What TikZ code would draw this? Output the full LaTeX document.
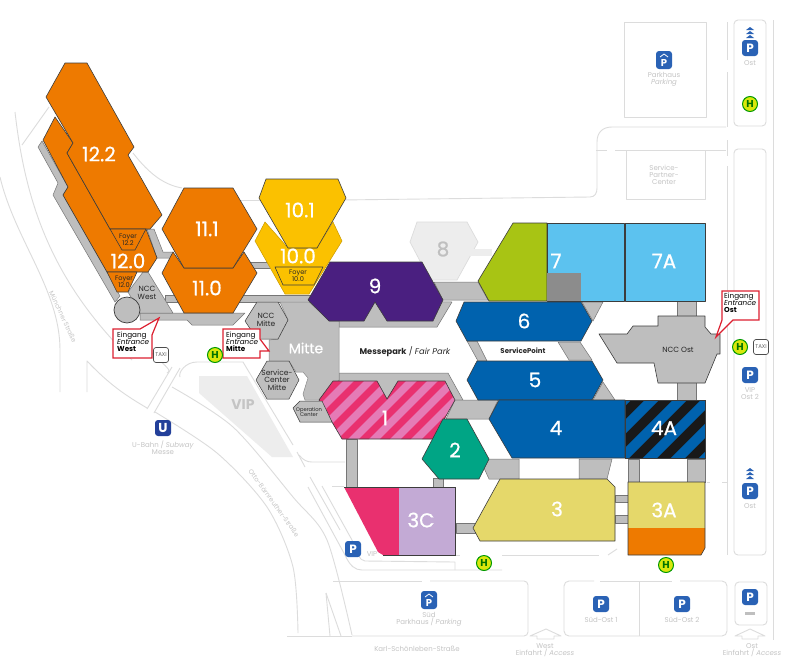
\documentclass[tikz,border=0pt]{standalone}
\usepackage{fontspec}
\setmainfont{Poppins}
\newfontfamily\hallf[RawFeature={embolden=0.7}]{Poppins}
\definecolor{roadc}{HTML}{DCDCDC}
\definecolor{stripc}{HTML}{BEBEBE}
\definecolor{edgec}{HTML}{3C3C3C}
\definecolor{orangec}{HTML}{EE7A00}
\definecolor{yellowc}{HTML}{FBC100}
\definecolor{purplec}{HTML}{4A1F80}
\definecolor{blued}{HTML}{0062AE}
\definecolor{bluel}{HTML}{5CC2EF}
\definecolor{greenc}{HTML}{A8C414}
\definecolor{tealc}{HTML}{00A585}
\definecolor{sandc}{HTML}{E5D86A}
\definecolor{lilacc}{HTML}{C3AAD5}
\definecolor{pinkd}{HTML}{E9306F}
\definecolor{pinkl}{HTML}{E57BB6}
\definecolor{pblue}{HTML}{2A62B5}
\definecolor{ublue}{HTML}{23409A}
\definecolor{greyt}{HTML}{C4C4C4}
\definecolor{redc}{HTML}{DC2030}
\newcommand{\fs}[1]{\fontsize{#1}{#1}\selectfont}
\tikzset{
  road/.style={draw=roadc,line width=0.9pt,line join=round},
  strip/.style={fill=stripc,draw=edgec!70,line width=0.5pt,line join=round},
  hall/.style={draw=edgec,line width=0.6pt,line join=round},
  hnum/.style={text=white,font=\hallf\fs{20},inner sep=0pt},
  small/.style={text=black!85,align=center,inner sep=0pt,font=\fs{7.5}},
  faint/.style={text=greyt,align=center,inner sep=0pt,font=\fs{7}},
  callout/.style={draw=redc,fill=white,line width=1.2pt,line join=miter},
  calltext/.style={text=black,align=left,inner sep=0pt,anchor=north west,font=\fs{7.2}},
  bus/.style={circle,draw=green!60!black,fill=yellow!85!green,line width=1pt,minimum size=15pt,inner sep=0pt,text=green!45!black,font=\bfseries\fs{10}},
  taxi/.style={draw=black!70,fill=white,rounded corners=2.5pt,line width=0.7pt,minimum width=15pt,minimum height=15pt,inner sep=0pt,text=black!60,font=\fs{5.5}},
  park/.style={rounded corners=3pt,fill=pblue,minimum size=16pt,inner sep=0pt,text=white,font=\bfseries\fs{12}},
}
\begin{document}
\begin{tikzpicture}[x=1pt,y=-1pt]
\useasboundingbox (0,0) rectangle (797,659);
\fill[white] (0,0) rectangle (797,659);
% ---- roads and outside plan
\draw[road] (15,112) .. controls (25,200) and (50,280) .. (132,360);
\draw[road] (0,177) .. controls (15,240) and (60,290) .. (60,350) -- (60,392);
\draw[road] (22,145) -- (49,107);
\draw[road] (133,153) .. controls (150,175) and (165,185) .. (182,188);
\draw[road] (240,200) -- (260,200);
\draw[road] (340,200) -- (590,197) .. controls (595,197) and (597,193) .. (597,188) -- (597,142) .. controls (597,132) and (603,127) .. (612,127) -- (726,127);
\draw[road] (596,150) -- (607,150);
\draw[road] (615,150) -- (726,150);
\draw[road] (624,22) rectangle (706,117);
\draw[road] (626,150) rectangle (705,199);
\draw[road] (727,22) -- (727,60);
\draw[road] (727,72) -- (727,127);
\draw[road] (727,140) -- (727,156);
\draw[road] (727,166) -- (727,555);
\draw[road,rounded corners=4pt] (734,20) rectangle (766,126);
\draw[road,rounded corners=4pt] (734,149) rectangle (766,555);
\draw[road] (773,20) -- (773,640);
\draw[road,rounded corners=4pt] (735,582) rectangle (767,625);
\draw[road] (87,392) -- (87,361) .. controls (110,385) and (125,395) .. (147,408);
\draw[road] plot[smooth] coordinates {(155,412) (217,453) (267,507) (293,567) (298,633)};
\draw[road] plot[smooth] coordinates {(172,387) (233,427) (293,497) (327,540) (352,635)};
\draw[road] (326,593) -- (330,636);
\draw[road] (326,593) -- (341,636);
\draw[road] (287,636) -- (352,636);
\draw[road] (172,367) -- (147,409);
\draw[road] (180,368) -- (154,413);
\draw[road] (180,377) .. controls (178,373) and (185,362) .. (197,362) -- (243,362) -- (293,445);
\draw[road] (132,335) .. controls (170,370) and (172,370) .. (167,373);
\draw[road] (297,452) -- (305,467);
\draw[road] (299,455) .. controls (303,460) and (307,462) .. (312,462) -- (345,462);
\draw[road] (310,477) -- (340,530);
\draw[road] (308,487) -- (345,555) .. controls (350,566) and (355,570) .. (362,570) -- (502,570);
\draw[road] (322,486) -- (352,540) .. controls (356,552) and (360,561) .. (365,561) -- (455,562) -- (455,570);
\draw[road] (332,486) -- (344,486);
\draw[road] (455,555) -- (460,555);
\draw[road] (502,555) -- (599,555);
\draw[road] (608,555) -- (617,549);
\draw[road] (707,482) -- (710,482);
\draw[road] (722,482) -- (727,482);
% south parking and south-east boxes
\draw[road,rounded corners=4pt] (333,581) -- (422,581);
\draw[road,rounded corners=4pt] (430,581) -- (528,581) -- (528,636) -- (352,636);
\draw[road,rounded corners=5pt] (594,581) -- (564,581) -- (564,636) -- (727,636) -- (727,581) -- (680,581);
\draw[road] (600,581) -- (672,581);
\draw[road] (639,581) -- (639,636);
% access arrows
\draw[road] (530,636) -- (546,629) -- (561,636) -- (554,636) -- (554,639) -- (537,639) -- (537,636) -- cycle;
\draw[road] (735,636) -- (750,629) -- (765,636) -- (758,636) -- (758,639) -- (742,639) -- (742,636) -- cycle;
% VIP area
\fill[black!7] (199,376) -- (247,376) -- (293,457) -- (272,457) -- (199,393) -- cycle;
\fill[black!7] (417,222) -- (467,222) -- (478,242) -- (457,280) -- (430,280) -- (410,242) -- cycle;
\draw[roadc,line width=0.7pt] (417,222) -- (467,222) -- (478,242) -- (457,280) -- (430,280) -- (410,242) -- cycle;
\fill[black!7] (470,249) rectangle (492,256);
% ---- connecting strips
\path[strip] (38,147) -- (42,141) -- (68,187) -- (63,195) -- (107,272) -- (120,296) -- (115,302) -- (53,195) -- (58,183) -- cycle;
\path[strip] (147,229) -- (154,229) -- (163,252) -- (173,252) -- (173,258) -- (157,258) -- cycle;
\path[strip] (250,262) -- (270,262) -- (270,268) -- (250,268) -- cycle;
\path[strip] (165,295) -- (310,295) -- (310,302) -- (165,302) -- cycle;
\path[strip] (140,313) -- (245,313) -- (233,325) -- (192,325) -- (187,320) -- (140,320) -- cycle;
\path[strip] (339,300) -- (452,302) -- (437,327) -- (339,327) -- cycle;
\path[strip] (339,373) -- (448,373) -- (463,400) -- (319,400) -- (339,381) -- cycle;
\path[strip] (434,282) -- (478,282) -- (488,300) -- (443,300) -- cycle;
\path[strip] (455,400) -- (498,400) -- (489,419) -- (446,419) -- cycle;
\path[strip] (467,341) -- (477,341) -- (487,361) -- (478,361) -- cycle;
\path[strip] (558,342) -- (580,342) -- (592,360) -- (569,360) -- cycle;
\path[strip] (582,302) -- (603,302) -- (593,321) -- cycle;
\path[strip] (603,382) -- (615,400) -- (593,400) -- cycle;
\path[strip] (677,300) rectangle (696,317);
\path[strip] (677,382) rectangle (696,400);
\path[strip] (346,439) rectangle (357,487);
\path[strip] (433,478) rectangle (443,487);
\path[strip] (456,523) rectangle (476,533);
\path[strip] (484,468) -- (489,459) -- (519,459) -- (519,479) -- (489,479) -- cycle;
\path[strip] (579,459) -- (612,459) -- (607,479) -- (579,479) -- cycle;
\path[strip] (615,495) rectangle (628,502);
\path[strip] (615,515) rectangle (628,523);
\path[strip] (628,459) rectangle (639,482);
\path[strip] (687,459) rectangle (705,482);
% Mitte block
\path[fill=stripc,draw=edgec!60,line width=0.5pt,line join=round] (280,302) -- (309,302) -- (330,321) -- (339,321) -- (339,380) -- (319,400) -- (305,400) -- (303,394) -- (308,378) -- (303,372) -- (296,372) -- (289,361) -- (269,361) -- (269,352) -- (269,340) -- (278,339) -- (288,320) -- cycle;
% NCC West and circle
\path[strip] (143,272) -- (148,272) -- (173,313) -- (140,313) -- (128,292) -- cycle;
\path[fill=stripc,draw=edgec,line width=0.7pt] (127,310) circle (13);
% ---- halls
\path[hall,fill=orangec] (55,117) -- (43,140) -- (68,187) -- (63,195) -- (107,272) -- (148,272) -- (157,258) -- (146,229) -- (110,229) -- (67,153) -- (73,143) -- cycle;
\path[hall,fill=orangec] (65,63) -- (87,63) -- (134,147) -- (128,155) -- (162,215) -- (150,229) -- (110,229) -- (67,153) -- (73,143) -- (46,97) -- cycle;
\path[hall,fill=orangec] (110,229) -- (146,229) -- (135,250) -- (122,250) -- cycle;
\path[hall,fill=orangec] (107,272) -- (137,272) -- (128,292) -- (117,292) -- cycle;
\path[hall,fill=orangec] (173,252) -- (184,268) -- (233,268) -- (244,252) -- (257,273) -- (233,313) -- (184,313) -- (162,273) -- cycle;
\path[hall,fill=orangec] (184,188) -- (233,188) -- (257,229) -- (233,268) -- (184,268) -- (162,229) -- cycle;
\path[fill=yellowc,draw=yellowc!80!black,line width=0.5pt] (265,222) -- (255,241) -- (285,294) -- (309,294) -- (342,241) -- (333,222) -- (317,248) -- (288,248) -- cycle;
\path[hall,fill=yellowc] (266,179) -- (338,179) -- (346,198) -- (317,248) -- (288,248) -- (259,198) -- cycle;
\path[hall,fill=yellowc] (275,267) -- (323,267) -- (314,285) -- (283,285) -- cycle;
\path[hall,fill=purplec] (330,262) -- (422,262) -- (443,300) -- (433,321) -- (387,321) -- (375,302) -- (364,321) -- (329,321) -- (308,300) -- cycle;
\path[hall,fill=greenc] (513,223) -- (547,223) -- (547,301) -- (489,301) -- (478,281) -- cycle;
\path[hall,fill=bluel] (547,223) rectangle (624,301);
\path[hall,fill=bluel] (625,223) rectangle (705,301);
\fill[black!45] (547,273) rectangle (581,301);
\path[hall,fill=blued] (464,302) -- (581,302) -- (592,321) -- (581,341) -- (467,341) -- (456,321) -- cycle;
\path[hall,fill=blued] (477,361) -- (592,361) -- (603,380) -- (592,400) -- (478,400) -- (467,380) -- cycle;
\path[hall,fill=blued] (499,400) -- (625,400) -- (625,458) -- (512,458) -- (489,419) -- cycle;
\begin{scope}
\clip (625,400) rectangle (705,458);
\fill[black!90] (625,400) rectangle (705,458);
\foreach \k in {-2,...,5} \draw[blued,line width=10pt] (610+\k*28,470) -- ++(80,-80);
\end{scope}
\draw[edgec,line width=0.6pt] (625,400) rectangle (705,458);
\begin{scope}
\clip (333,381) -- (377,381) -- (387,399) -- (398,381) -- (445,381) -- (455,400) -- (433,439) -- (342,439) -- (319,400) -- cycle;
\fill[pinkl] (310,375) rectangle (460,445);
\foreach \k in {-1,...,8} \draw[pinkd,line width=7pt] (290+\k*21,450) -- ++(80,-80);
\end{scope}
\draw[edgec,line width=0.6pt,line join=round] (333,381) -- (377,381) -- (387,399) -- (398,381) -- (445,381) -- (455,400) -- (433,439) -- (342,439) -- (319,400) -- cycle;
\path[hall,fill=tealc] (443,419) -- (467,419) -- (489,459) -- (479,479) -- (439,479) -- (422,459) -- cycle;
\path[hall,fill=sandc] (500,479) -- (607,479) -- (615,487) -- (615,541) -- (480,541) -- (473,528) -- cycle;
\fill[sandc] (628,482) rectangle (705,528);
\fill[orangec] (628,528) -- (705,528) -- (705,548) -- (701,555) -- (628,555) -- cycle;
\draw[edgec,line width=0.6pt,line join=round] (628,555) -- (628,482) -- (705,482) -- (705,548) -- (701,555) -- cycle;
\fill[pinkd] (344,487) -- (399,487) -- (399,555) -- (383,555) -- (378,552) -- cycle;
\fill[lilacc] (399,487) rectangle (455,555);
\draw[edgec,line width=0.6pt] (344,487) -- (455,487) -- (455,555) -- (383,555);
% grey buildings
\path[fill=stripc,draw=edgec,line width=0.5pt,line join=round] (257,302) -- (278,302) -- (288,320) -- (278,339) -- (257,339) -- (245,321) -- cycle;
\path[fill=stripc,draw=edgec,line width=0.5pt,line join=round] (267,361) -- (289,361) -- (299,380) -- (289,399) -- (267,399) -- (256,380) -- cycle;
\path[fill=stripc,draw=edgec,line width=0.5pt,line join=round] (293,408) -- (300,401) -- (322,401) -- (332,422) -- (300,422) -- cycle;
\path[fill=stripc,draw=edgec,line width=0.6pt,line join=round] (599,334) -- (627,334) -- (633,326) -- (658,326) -- (658,316) -- (705,316) -- (705,327) -- (711,334) -- (720,334) -- (720,354) -- (717,354) -- (705,383) -- (658,383) -- (654,363) -- (617,363) -- cycle;
% ---- hall labels
\node[hnum] (h122) at (99,154) {12.2};
\node[hnum] (h120) at (128,261) {12.0};
\node[hnum] (h111) at (207,229) {11.1};
\node[hnum] (h110) at (207,288) {11.0};
\node[hnum] (h101) at (300,210) {10.1};
\node[hnum] (h100) at (298,256) {10.0};
\node[hnum] (h9) at (375,286) {9};
\node[hnum,text=black!25] (h8) at (443,249) {8};
\node[hnum] (h7) at (556,261) {7};
\node[hnum] (h7a) at (664,261) {7A};
\node[hnum] (h6) at (524,321) {6};
\node[hnum] (h5) at (535,380) {5};
\node[hnum] (h4) at (556,428) {4};
\node[hnum] (h4a) at (664,428) {4A};
\node[hnum] (h1) at (385,418) {1};
\node[hnum] (h2) at (455,450) {2};
\node[hnum] (h3) at (557,509) {3};
\node[hnum] (h3a) at (664,510) {3A};
\node[hnum] (h3c) at (421,520) {3C};
\node[hnum,font=\hallf\fs{14}] (mitte) at (306,348) {Mitte};
\node[small,font=\fs{6.6}] (f122) at (128,240) {Foyer\\12.2};
\node[small,font=\fs{6.6}] (f120) at (124,282) {Foyer\\12.0};
\node[small,font=\fs{6.6}] (f100) at (298,276) {Foyer\\10.0};
\node[small] (nccw) at (147,293) {NCC\\West};
\node[small] (nccm) at (266,320) {NCC\\Mitte};
\node[small] (scm) at (277,380) {Service-\\Center\\Mitte};
\node[small,font=\fs{5.2}] (opc) at (309,412) {Operation\\Center};
\node[small] (ncco) at (678,350) {NCC Ost};
\node[small,font=\fs{8.3}] (fairp) at (405,352) {\textbf{Messepark} / \textit{Fair Park}};
\node[small,font=\bfseries\fs{7}] (spt) at (523,351) {ServicePoint};
% ---- callouts
\path[callout] (113,329) -- (140,329) -- (159,318) -- (152,335) -- (152,358) -- (113,358) -- cycle;
\node[calltext] (cw) at (117,332) {Eingang\\[-0.5pt]\textit{Entrance}\\[-0.5pt]\textbf{West}};
\path[callout] (223,329) -- (260,329) -- (260,339) -- (269,351) -- (260,351) -- (260,358) -- (223,358) -- cycle;
\node[calltext] (cm) at (226,332) {Eingang\\[-0.5pt]\textit{Entrance}\\[-0.5pt]\textbf{Mitte}};
\path[callout] (722,291) -- (759,291) -- (759,320) -- (733,320) -- (716,337) -- (722,320) -- cycle;
\node[calltext] (co) at (724,293) {Eingang\\[-0.5pt]\textit{Entrance}\\[-0.5pt]\textbf{Ost}};
% ---- icons
\node[bus] (b1) at (215,355) {H};
\node[bus] (b2) at (740,347) {H};
\node[bus] (b3) at (750,104) {H};
\node[bus] (b4) at (484,563) {H};
\node[bus] (b5) at (666,565) {H};
\node[taxi] (t1) at (161,355) {TAXI};
\node[taxi] (t2) at (761,347) {TAXI};
\node[park] (p1) at (750,48) {P};
\node[park] (p2) at (750,375) {P};
\node[park] (p3) at (750,491) {P};
\node[park] (p4) at (750,597) {P};
\node[park] (p5) at (353,549) {P};
\node[park,minimum width=16pt,minimum height=18pt] (p6) at (664,60) {};
\node[text=white,font=\bfseries\fs{10},inner sep=0pt] (p6t) at (664,63) {P};
\draw[white,line width=0.8pt] (p6.center)+(-4,-3) -- +(0,-6) -- +(4,-3);
\node[park,minimum width=16pt,minimum height=18pt] (p7) at (429,600) {};
\node[text=white,font=\bfseries\fs{10},inner sep=0pt] (p7t) at (429,603) {P};
\draw[white,line width=0.8pt] (p7.center)+(-4,-3) -- +(0,-6) -- +(4,-3);
\node[park] (p8) at (601,604) {P};
\node[park] (p9) at (682,604) {P};
\node[park,fill=ublue,font=\bfseries\fs{13}] (u1) at (163,428) {U};
\foreach \yy in {27,31,35} \fill[pblue] (746,\yy+3) -- (750,\yy) -- (754,\yy+3) -- cycle;
\foreach \yy in {468,472,476} \fill[pblue] (746,\yy+3) -- (750,\yy) -- (754,\yy+3) -- cycle;
\fill[black!25] (745,612) rectangle (755,615);
% ---- faint labels
\node[faint] (l1) at (750,63) {Ost};
\node[faint] (l2) at (750,394) {VIP\\Ost 2};
\node[faint] (l3) at (750,506) {Ost};
\node[faint] (l4) at (664,79) {Parkhaus\\\textit{Parking}};
\node[faint] (l5) at (664,175) {Service-\\Partner-\\Center};
\node[faint] (l6) at (163,448) {U-Bahn / \textit{Subway}\\Messe};
\node[faint] (l7) at (372,554) {VIP};
\node[faint] (l8) at (429,619) {Süd\\Parkhaus / \textit{Parking}};
\node[faint] (l9) at (601,620) {Süd-Ost 1};
\node[faint] (l10) at (682,620) {Süd-Ost 2};
\node[faint] (l11) at (417,649) {Karl-Schönleben-Straße};
\node[faint] (l12) at (545,650) {West\\Einfahrt / \textit{Access}};
\node[faint] (l13) at (752,650) {Ost\\Einfahrt / \textit{Access}};
\node[faint,rotate=-65,font=\fs{6.5}] (l14) at (63,317) {Münchner Straße};
\node[faint,rotate=-54,font=\fs{6.5}] (l15) at (274,503) {Otto-Bärnreuther-Straße};
\node[faint,font=\bfseries\fs{14}] (l16) at (243,405) {VIP};
\end{tikzpicture}
\end{document}
